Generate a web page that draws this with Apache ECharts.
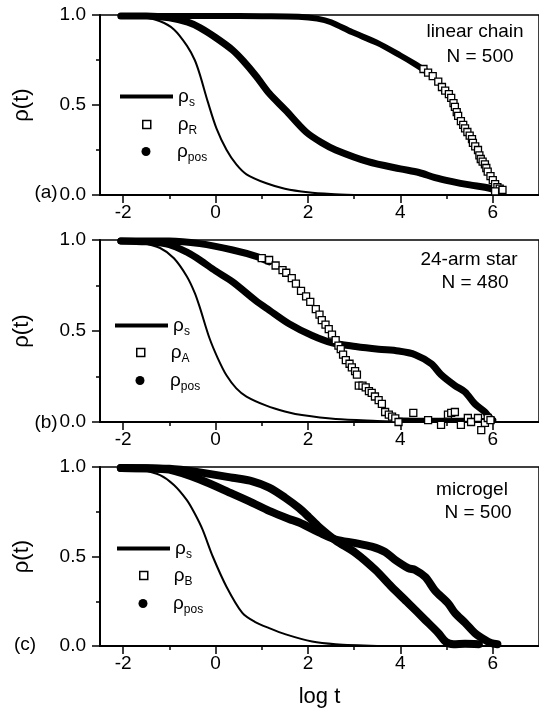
<!DOCTYPE html>
<html><head><meta charset="utf-8">
<script src="https://cdn.jsdelivr.net/npm/echarts@6/dist/echarts.min.js"></script>
<style>html,body{margin:0;padding:0;background:#fff}#c{width:539px;height:718px}</style>
</head><body><div id="c"></div>
<script>
// ---------- data (log t, rho) ----------
const xMajorTicks = [-2, 0, 2, 4, 6];
const xMinorTicks = [-1, 1, 3, 5];

// panel (a) linear chain N = 500
const aRhoS = [[-2.0,0.998],[-1.6,0.99],[-1.2,0.965],[-0.9,0.92],[-0.62,0.83],[-0.45,0.75],[-0.34,0.67],[-0.17,0.52],[0.02,0.37],[0.24,0.25],[0.45,0.17],[0.67,0.115],[1.1,0.065],[1.5,0.035],[2.0,0.015],[2.5,0.005],[3.0,0.0]];
const aRhoPos = [[-2.05,0.995],[-1.5,0.995],[-1.0,0.985],[-0.6,0.96],[-0.34,0.93],[0.0,0.875],[0.37,0.805],[0.6,0.745],[0.88,0.66],[1.16,0.565],[1.52,0.47],[1.96,0.35],[2.3,0.29],[2.6,0.25],[3.3,0.185],[4.0,0.145],[4.4,0.125],[4.75,0.097],[5.1,0.076],[5.5,0.056],[5.83,0.043],[6.0,0.032],[6.15,0.018]];
const aRhoRDense = [[-2.05,0.995],[-1.0,0.995],[0.0,0.995],[1.0,0.993],[1.8,0.99],[2.2,0.98],[2.5,0.96],[2.95,0.905],[3.5,0.845],[4.0,0.775],[4.3,0.73],[4.6,0.68]];
const aRhoRSquares = [[4.5,0.70],[4.6,0.68],[4.7,0.66],[4.82,0.63],[4.9,0.6],[4.97,0.58],[5.05,0.56],[5.1,0.54],[5.15,0.51],[5.18,0.49],[5.22,0.46],[5.25,0.44],[5.31,0.41],[5.36,0.39],[5.4,0.37],[5.45,0.35],[5.5,0.33],[5.55,0.31],[5.57,0.29],[5.62,0.27],[5.68,0.25],[5.71,0.22],[5.74,0.2],[5.78,0.185],[5.83,0.17],[5.86,0.15],[5.89,0.13],[5.95,0.105],[6.0,0.083],[6.05,0.06],[6.1,0.044],[6.15,0.035],[6.21,0.028],[6.05,0.02]];

// panel (b) 24-arm star N = 480
const bRhoS = [[-2.0,0.998],[-1.6,0.985],[-1.2,0.956],[-0.9,0.9],[-0.62,0.8],[-0.45,0.71],[-0.34,0.63],[-0.13,0.46],[0.05,0.35],[0.24,0.255],[0.45,0.185],[0.67,0.14],[1.1,0.09],[1.5,0.058],[1.87,0.038],[2.6,0.016],[3.5,0.006],[4.2,0.0]];
const bRhoPos = [[-2.05,0.995],[-1.5,0.99],[-1.0,0.975],[-0.6,0.93],[-0.34,0.89],[0.0,0.83],[0.37,0.77],[0.88,0.665],[1.16,0.615],[1.59,0.54],[2.09,0.475],[2.52,0.435],[3.03,0.415],[3.53,0.40],[3.96,0.39],[4.32,0.37],[4.67,0.32],[4.88,0.26],[5.18,0.20],[5.4,0.165],[5.61,0.10],[5.83,0.055],[5.94,0.022],[6.0,0.01]];
const bRhoADense = [[-2.05,0.995],[-1.0,0.995],[-0.34,0.98],[0.37,0.945],[0.88,0.91],[1.16,0.88]];
const bRhoASquares = [[1.0,0.9],[1.16,0.89],[1.3,0.86],[1.45,0.835],[1.53,0.82],[1.65,0.79],[1.74,0.76],[1.85,0.72],[1.96,0.69],[2.05,0.66],[2.17,0.62],[2.25,0.59],[2.3,0.56],[2.38,0.535],[2.45,0.51],[2.52,0.48],[2.6,0.45],[2.66,0.42],[2.71,0.40],[2.76,0.37],[2.82,0.34],[2.9,0.32],[2.95,0.30],[3.02,0.28],[3.06,0.26],[3.1,0.2],[3.18,0.2],[3.25,0.19],[3.32,0.17],[3.38,0.16],[3.45,0.14],[3.53,0.12],[3.6,0.1],[3.67,0.055],[3.75,0.04],[3.82,0.03],[3.89,0.02],[3.96,0.0],[4.28,0.05],[4.6,0.01],[4.88,-0.016],[5.03,0.04],[5.1,0.05],[5.18,0.055],[5.31,-0.016],[5.46,0.022],[5.53,0.0],[5.68,0.022],[5.75,-0.045],[5.83,-0.005],[5.89,0.022],[5.95,0.01]];
const bRhoATail = [[3.85,0.012],[4.4,0.01],[5.0,0.01],[5.5,0.01],[5.85,0.008]];

// panel (c) microgel N = 500
const cRhoS = [[-2.0,0.998],[-1.6,0.985],[-1.2,0.955],[-0.9,0.9],[-0.62,0.815],[-0.45,0.74],[-0.28,0.65],[-0.06,0.5],[0.24,0.33],[0.58,0.185],[0.85,0.135],[1.16,0.1],[1.52,0.065],[2.09,0.025],[2.6,0.01],[3.5,0.0]];
const cRhoPos = [[-2.05,0.995],[-1.5,0.993],[-1.0,0.985],[-0.34,0.93],[0.37,0.85],[0.8,0.8],[1.16,0.755],[1.59,0.71],[1.81,0.69],[2.24,0.635],[2.6,0.595],[3.03,0.575],[3.38,0.555],[3.67,0.525],[3.89,0.48],[4.17,0.435],[4.32,0.425],[4.54,0.385],[4.75,0.31],[5.03,0.24],[5.18,0.185],[5.4,0.13],[5.61,0.073],[5.83,0.034],[5.96,0.017],[6.1,0.01]];
const cRhoB = [[-2.05,0.995],[-1.0,0.99],[-0.34,0.97],[0.37,0.94],[0.8,0.92],[1.16,0.885],[1.5,0.83],[1.81,0.77],[2.02,0.72],[2.24,0.665],[2.6,0.59],[3.03,0.52],[3.46,0.425],[3.81,0.33],[4.17,0.24],[4.54,0.145],[4.82,0.073],[4.99,0.022],[5.15,0.01],[5.4,0.012],[5.7,0.01]];

const panelLabels = ['(a)', '(b)', '(c)'];
const panelTitles = [['linear chain', 'N = 500'], ['24-arm star', 'N = 480'], ['microgel', 'N = 500']];
const legendSubs = [['s', 'R', 'pos'], ['s', 'A', 'pos'], ['s', 'B', 'pos']];

// ---------- layout ----------
const FONT = 'Liberation Sans, Arial, sans-serif';
const grids = [
  {left: 100, top: 15, width: 442, height: 180},
  {left: 100, top: 240, width: 442, height: 182},
  {left: 100, top: 467, width: 442, height: 179}
];
const labelPos = [[46, 193], [46, 423], [25, 645]];
const titlePos = [[[475, 32], [480, 57]], [[469, 260], [475, 283]], [[472, 490], [478, 513]]];
// legend: [lineLeft, lineY, symbolCenterX, squareY, circleY, textX]
const legendPos = [[120, 99, 146, 127, 154, 177], [115, 328, 140, 355, 383, 170], [117, 551, 143, 578, 606, 173]];

const axisColor = '#000';
const xAxes = [], yAxes = [], series = [], legends = [], graphics = [];

grids.forEach((g, i) => {
  xAxes.push({
    type: 'value', gridIndex: i, min: -2.5, max: 7, position: 'bottom',
    axisLine: {show: true, onZero: false, lineStyle: {color: axisColor, width: 2}},
    axisTick: {show: true, length: 8, customValues: xMajorTicks, lineStyle: {color: axisColor, width: 1.5}},
    axisLabel: {show: true, customValues: xMajorTicks, fontSize: 19, color: '#000', margin: 8, fontFamily: FONT},
    splitLine: {show: false},
    name: i === 2 ? 'log t' : '', nameLocation: 'middle', nameGap: 40,
    nameTextStyle: {fontSize: 22, color: '#000', fontFamily: FONT}
  });
  xAxes.push({
    type: 'value', gridIndex: i, min: -2.5, max: 7, position: 'bottom',
    axisLine: {show: false, onZero: false},
    axisTick: {show: true, length: 4, customValues: xMinorTicks, lineStyle: {color: axisColor, width: 1.5}},
    axisLabel: {show: false}, splitLine: {show: false}
  });
  yAxes.push({
    type: 'value', gridIndex: i, min: 0, max: 1, interval: 0.5, position: 'left',
    axisLine: {show: true, onZero: false, lineStyle: {color: axisColor, width: 2}},
    axisTick: {show: true, length: 8, lineStyle: {color: axisColor, width: 1.5}},
    minorTick: {show: true, splitNumber: 2, length: 4, lineStyle: {color: axisColor, width: 1.5}},
    axisLabel: {formatter: v => v.toFixed(1), fontSize: 19, color: '#000', margin: 14, fontFamily: FONT},
    splitLine: {show: false},
    name: 'ρ(t)', nameLocation: 'middle', nameRotate: 90, nameGap: 67,
    nameTextStyle: {fontSize: 22, color: '#000', fontFamily: FONT}
  });
});

function lineSeries(name, data, i, width, z) {
  return {
    name, type: 'line', data, xAxisIndex: 2 * i, yAxisIndex: i,
    showSymbol: false, symbol: 'none', smooth: 0.3, z: z || 2,
    lineStyle: {color: '#000', width, cap: 'round', join: 'round'},
    itemStyle: {color: '#000'}, silent: true, animation: false
  };
}
function squareSeries(name, data, i, size) {
  return {
    name, type: 'scatter', data, xAxisIndex: 2 * i, yAxisIndex: i, clip: false,
    symbol: 'rect', symbolSize: size, z: 5,
    itemStyle: {color: '#fff', borderColor: '#000', borderWidth: 1.3, opacity: 1},
    silent: true, animation: false
  };
}

// panel a
series.push(lineSeries('a_s', aRhoS, 0, 2));
series.push(lineSeries('a_pos', aRhoPos, 0, 7));
series.push(lineSeries('a_R', aRhoRDense, 0, 6));
series.push(squareSeries('a_R', aRhoRSquares, 0, 7));
// panel b
series.push(lineSeries('b_s', bRhoS, 1, 2));
series.push(lineSeries('b_pos', bRhoPos, 1, 7));
series.push(lineSeries('b_A', bRhoADense, 1, 7));
series.push(lineSeries('b_A', bRhoATail, 1, 5));
series.push(squareSeries('b_A', bRhoASquares, 1, 7));
// panel c
series.push(lineSeries('c_s', cRhoS, 2, 2));
series.push(lineSeries('c_B', cRhoB, 2, 8));
series.push(lineSeries('c_pos', cRhoPos, 2, 8));

function makeRich(spacer) {
  return {
    sp: {width: spacer, fontSize: 19, lineHeight: 24},
    g: {fontSize: 19, lineHeight: 24, fontFamily: FONT, color: '#000'},
    sub: {fontSize: 12, lineHeight: 10, verticalAlign: 'bottom', fontFamily: FONT, color: '#000'}
  };
}
const legendFmt = name => '{sp| }{g|ρ}{sub|' + name.split('_')[1] + '}';
const prefixes = ['a', 'b', 'c'];

grids.forEach((g, i) => {
  const p = prefixes[i];
  const [lx, ly, sx, sqy, cy, tx] = legendPos[i];
  const subs = legendSubs[i];
  const common = {selectedMode: false, padding: 0, orient: 'vertical', formatter: legendFmt};
  // line item
  legends.push(Object.assign({}, common, {
    left: lx, top: ly - 12, itemWidth: 53, itemHeight: 4,
    textStyle: {rich: makeRich(Math.max(0.1, tx - (lx + 53 + 5)))},
    data: [{name: p + '_' + subs[0], icon: 'rect', itemStyle: {color: '#000', borderWidth: 0}}]
  }));
  // square item
  legends.push(Object.assign({}, common, {
    left: sx - 4, top: sqy - 12, itemWidth: 8, itemHeight: 8,
    textStyle: {rich: makeRich(tx - (sx - 4 + 8 + 5))},
    data: [{name: p + '_' + subs[1], icon: 'rect', itemStyle: {color: '#fff', borderColor: '#000', borderWidth: 1.5}}]
  }));
  // circle item
  legends.push(Object.assign({}, common, {
    left: sx - 4.5, top: cy - 12, itemWidth: 9, itemHeight: 9,
    textStyle: {rich: makeRich(tx - (sx - 4.5 + 9 + 5))},
    data: [{name: p + '_' + subs[2], icon: 'circle', itemStyle: {color: '#000', borderWidth: 0}}]
  }));

  graphics.push({type: 'text', x: labelPos[i][0], y: labelPos[i][1],
    style: {text: panelLabels[i], fontSize: 19, fontFamily: FONT, fill: '#000', align: 'center', verticalAlign: 'middle'}});
  panelTitles[i].forEach((t, k) => {
    graphics.push({type: 'text', x: titlePos[i][k][0], y: titlePos[i][k][1],
      style: {text: t, fontSize: 19, fontFamily: FONT, fill: '#000', align: 'center', verticalAlign: 'middle'}});
  });
});

const chart = echarts.init(document.getElementById('c'), null, {renderer: 'canvas'});
chart.setOption({
  animation: false,
  backgroundColor: '#fff',
  textStyle: {fontFamily: FONT, color: '#000'},
  grid: grids.map(g => Object.assign({show: true, borderColor: '#000', borderWidth: 1.5, backgroundColor: 'transparent'}, g)),
  xAxis: xAxes,
  yAxis: yAxes,
  legend: legends,
  series,
  graphic: graphics
});
</script>
</body></html>
